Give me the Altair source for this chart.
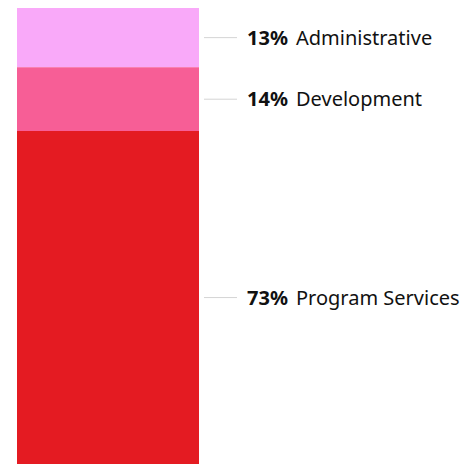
import altair as alt
import pandas as pd

categories = ["Administrative", "Development", "Program Services"]
percents = [13, 14, 73]
colors = ["#f9a9f9", "#f75e96", "#e41b22"]

df = pd.DataFrame({"category": categories, "pct": percents, "group": ["Expenses"] * 3})
df["end"] = df["pct"].cumsum()
df["start"] = df["end"] - df["pct"]
df["mid"] = (df["start"] + df["end"]) / 2
df["pct_label"] = df["pct"].astype(str) + "%"

yscale = alt.Scale(domain=[0, 100], reverse=True, nice=False)
base = alt.Chart(df)

bars = base.mark_bar(stroke=None).encode(
    x=alt.X("group:N", axis=None, scale=alt.Scale(range=[9, 191], paddingInner=0, paddingOuter=0)),
    y=alt.Y("start:Q", scale=yscale, axis=None),
    y2="end:Q",
    color=alt.Color("category:N", scale=alt.Scale(domain=categories, range=colors), legend=None),
)

rules = base.mark_rule(color="#d4d4d4", strokeWidth=1).encode(
    y=alt.Y("mid:Q", scale=yscale, axis=None),
    x=alt.value(196),
    x2=alt.value(229),
)

pct_text = base.mark_text(align="left", baseline="middle", font="Noto Sans", fontSize=20,
                          fontWeight="bold", color="#111111", dy=1).encode(
    y=alt.Y("mid:Q", scale=yscale, axis=None),
    x=alt.value(239),
    text="pct_label:N",
)

name_text = base.mark_text(align="left", baseline="middle", font="Noto Sans", fontSize=20,
                           fontWeight="normal", color="#111111", dy=1).encode(
    y=alt.Y("mid:Q", scale=yscale, axis=None),
    x=alt.value(288),
    text="category:N",
)

chart = alt.layer(bars, rules, pct_text, name_text).properties(
    width=459, height=456, padding=0, autosize=alt.AutoSizeParams(type="none")
).configure_view(stroke=None)

chart.save("out.html", embed_options={"renderer": "svg", "actions": False})
